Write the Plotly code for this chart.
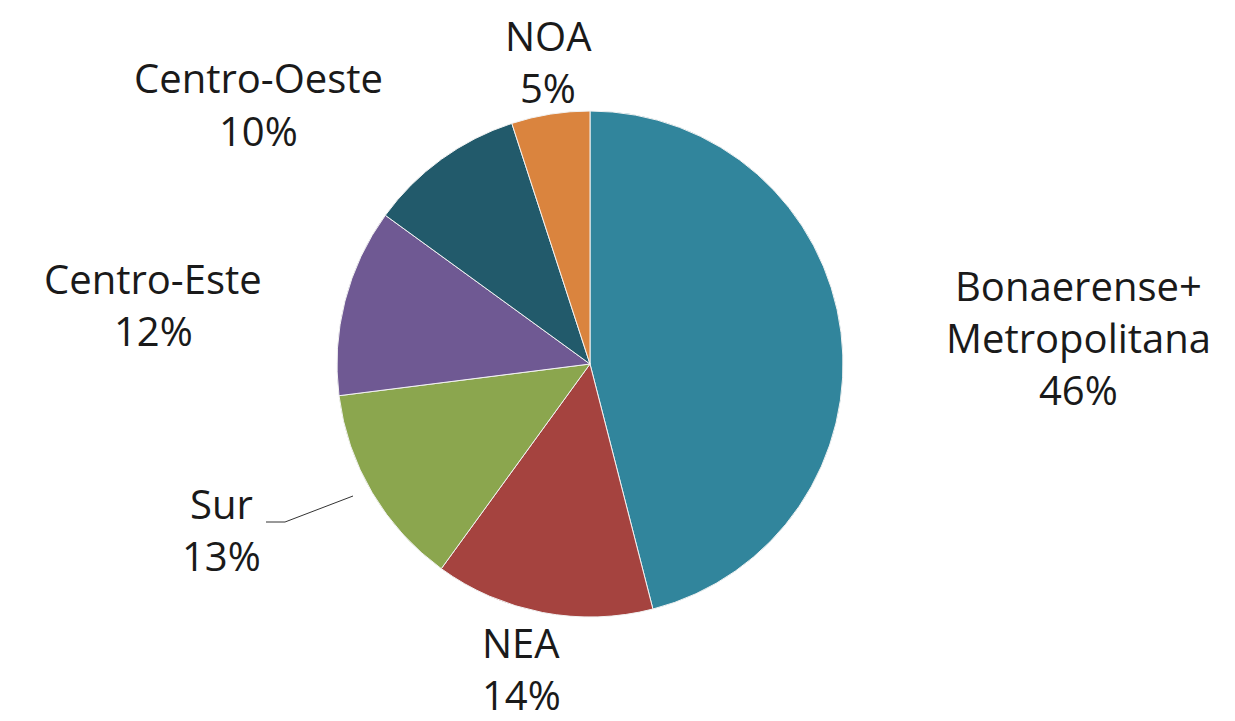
import plotly.graph_objects as go

regions = ["Bonaerense+<br>Metropolitana", "NEA", "Sur", "Centro-Este", "Centro-Oeste", "NOA"]
shares = [46, 14, 13, 12, 10, 5]
colors = ["#31859C", "#A5433F", "#8BA64E", "#6F5993", "#225A6B", "#DA843E"]

W, H = 1235, 721
cx, cy, r = 582, 356, 253

fig = go.Figure(go.Pie(
    labels=regions, values=shares, sort=False, direction="clockwise", rotation=0,
    marker=dict(colors=colors, line=dict(color="#F2F2F2", width=1)),
    textinfo="none", hoverinfo="label+percent", showlegend=False,
    domain=dict(x=[(cx - r) / W, (cx + r) / W], y=[(H - cy - r) / H, (H - cy + r) / H]),
))

# label positions in pixels: centre x, y of first line
label_pos = [(1070, 277), (513, 634), (213, 495), (145, 270), (250, 70), (540, 28)]
line_gap = 52
for name, v, (px, py) in zip(regions, shares, label_pos):
    lines = name.split("<br>") + [f"{v}%"]
    for i, t in enumerate(lines):
        fig.add_annotation(x=px / W, y=1 - (py + i * line_gap) / H, xref="paper", yref="paper",
                           text=t, showarrow=False,
                           font=dict(family="Open Sans", size=40, color="#1a1a1a"),
                           xanchor="center", yanchor="middle")

# leader line for Sur
fig.add_shape(type="line", xref="paper", yref="paper",
              x0=258 / W, y0=1 - 514 / H, x1=277 / W, y1=1 - 514 / H,
              line=dict(color="#333333", width=1))
fig.add_shape(type="line", xref="paper", yref="paper",
              x0=277 / W, y0=1 - 514 / H, x1=345 / W, y1=1 - 488 / H,
              line=dict(color="#333333", width=1))

fig.update_layout(width=W, height=H, margin=dict(l=0, r=0, t=0, b=0),
                  paper_bgcolor="white", plot_bgcolor="white")
fig.write_html("out.html")
